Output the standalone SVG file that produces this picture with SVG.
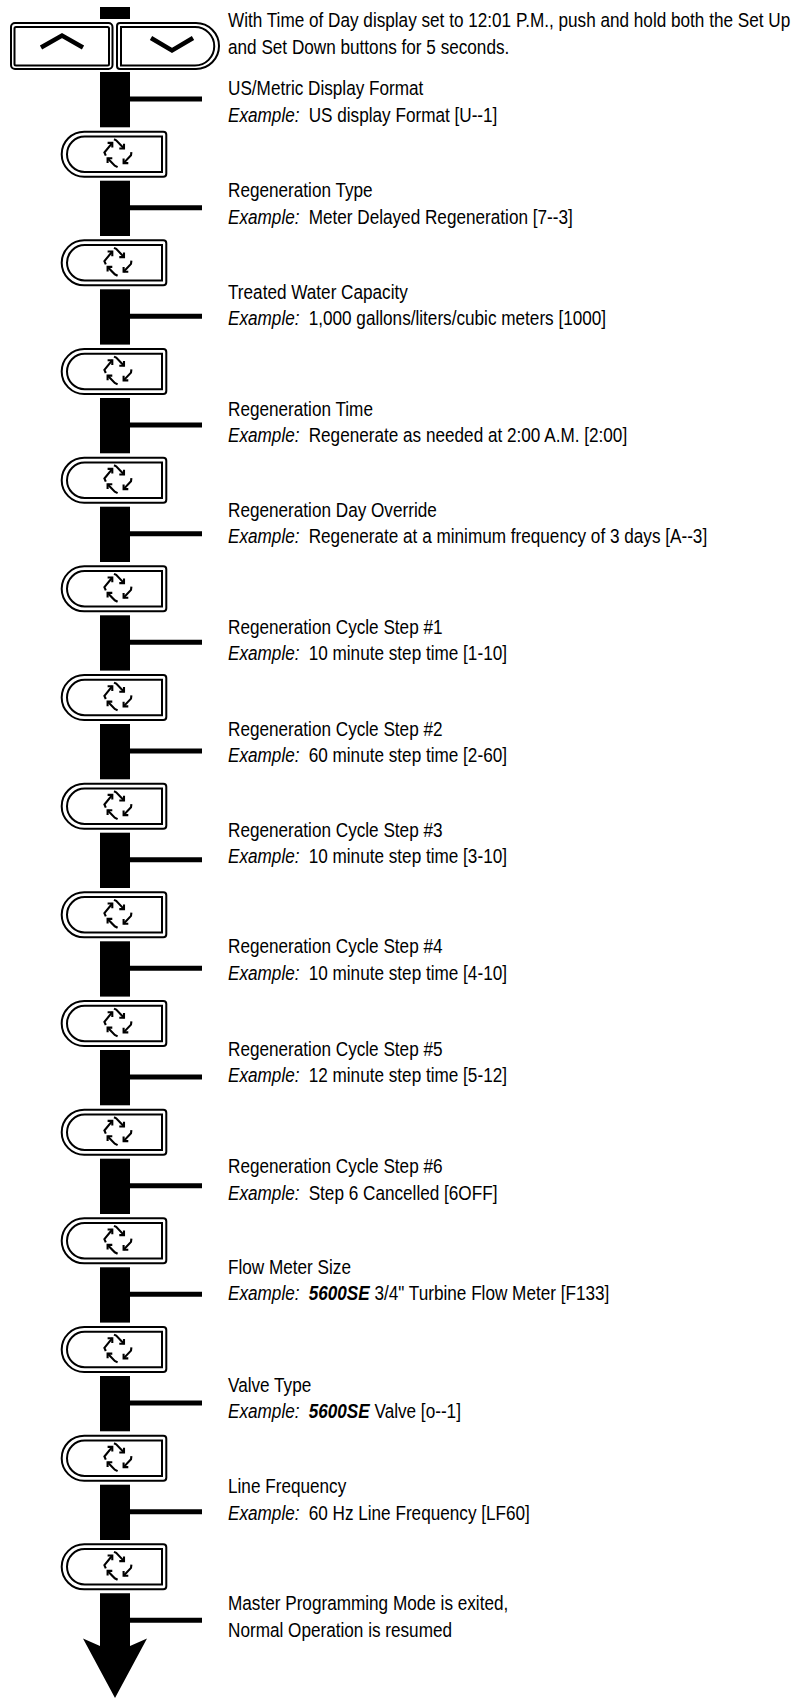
<svg xmlns="http://www.w3.org/2000/svg" xmlns:xlink="http://www.w3.org/1999/xlink" width="810" height="1698" viewBox="0 0 810 1698">
<style>
.t{font-family:"Liberation Sans",Arial,"DejaVu Sans",sans-serif;font-size:19.5px;fill:#000}
.i{font-style:italic}
.bi{font-style:italic;font-weight:bold}
.btn{fill:#fff;stroke:#000;stroke-width:2}
.ico{fill:none;stroke:#000;stroke-width:2.1;stroke-linejoin:miter;stroke-linecap:butt}
.chev{fill:none;stroke:#000;stroke-width:4.5;stroke-linejoin:miter}
.bar{fill:#000}
.ln{stroke:#000;stroke-width:5}
</style>
<defs>
<g id="rb">
<path class="btn" d="M84.2,1 H163.3 Q166.3,1 166.3,4 V43 Q166.3,46 163.3,46 H84.2 A22.5,22.5 0 0 1 84.2,1 Z"/>
<path class="btn" d="M84.7,5.8 H162 V41.2 H84.7 A17.7,17.7 0 0 1 84.7,5.8 Z"/>
<g class="ico">
<path d="M105.8,25 L104.4,21.8 L112.3,12.2"/><path d="M107.6,12.2 H112.3 V16.9"/>
<path d="M114,8.6 L116.2,9.6 L124,17.8"/><path d="M124,13.1 V17.8 H119.3"/>
<path d="M131.4,21.4 L131,24.6 L123.6,32.4"/><path d="M123.6,27.7 V32.4 H128.3"/>
<path d="M117.6,36.4 L114.8,35 L107.6,27.6"/><path d="M112.3,27.6 H107.6 V32.3"/>
</g>
</g>
</defs>

<g id="connectors">
<rect class="bar" x="100" y="7" width="30" height="12"/>
<rect class="bar" x="100" y="72" width="30" height="55.3"/>
<rect class="bar" x="100" y="180.7" width="30" height="55.3"/>
<rect class="bar" x="100" y="289.3" width="30" height="55.3"/>
<rect class="bar" x="100" y="398" width="30" height="55.3"/>
<rect class="bar" x="100" y="506.7" width="30" height="55.3"/>
<rect class="bar" x="100" y="615.3" width="30" height="55.3"/>
<rect class="bar" x="100" y="724" width="30" height="55.3"/>
<rect class="bar" x="100" y="832.7" width="30" height="55.3"/>
<rect class="bar" x="100" y="941.3" width="30" height="55.3"/>
<rect class="bar" x="100" y="1050" width="30" height="55.3"/>
<rect class="bar" x="100" y="1158.7" width="30" height="55.3"/>
<rect class="bar" x="100" y="1267.3" width="30" height="55.3"/>
<rect class="bar" x="100" y="1376" width="30" height="55.3"/>
<rect class="bar" x="100" y="1484.7" width="30" height="55.3"/>
<polygon class="bar" points="100,1593.3 130,1593.3 130,1646 147,1638.5 115,1698 83,1638.5 100,1646"/>
<line class="ln" x1="130" y1="99" x2="202" y2="99"/>
<line class="ln" x1="130" y1="207.7" x2="202" y2="207.7"/>
<line class="ln" x1="130" y1="316.3" x2="202" y2="316.3"/>
<line class="ln" x1="130" y1="425" x2="202" y2="425"/>
<line class="ln" x1="130" y1="533.7" x2="202" y2="533.7"/>
<line class="ln" x1="130" y1="642.3" x2="202" y2="642.3"/>
<line class="ln" x1="130" y1="751" x2="202" y2="751"/>
<line class="ln" x1="130" y1="859.7" x2="202" y2="859.7"/>
<line class="ln" x1="130" y1="968.3" x2="202" y2="968.3"/>
<line class="ln" x1="130" y1="1077" x2="202" y2="1077"/>
<line class="ln" x1="130" y1="1185.7" x2="202" y2="1185.7"/>
<line class="ln" x1="130" y1="1294.3" x2="202" y2="1294.3"/>
<line class="ln" x1="130" y1="1403" x2="202" y2="1403"/>
<line class="ln" x1="130" y1="1511.7" x2="202" y2="1511.7"/>
<line class="ln" x1="130" y1="1620.3" x2="202" y2="1620.3"/>
</g>

<g id="btn-up">
<rect class="btn" x="11" y="23" width="101.5" height="46" rx="4"/>
<rect class="btn" x="14.5" y="27" width="94.5" height="38.5" rx="1.5"/>
<path class="chev" d="M41,47.5 L62,35.5 L83,47.5"/>
</g>
<g id="btn-down">
<path class="btn" d="M120,23 H196 A23,23 0 0 1 196,69 H120 Q117,69 117,66 V26 Q117,23 120,23 Z"/>
<path class="btn" d="M121,27 H195 A19.25,19.25 0 0 1 195,65.5 H121 Z"/>
<path class="chev" d="M151,38 L172,50.5 L193,38"/>
</g>

<g id="btn-1"><use xlink:href="#rb" href="#rb" y="130.7"/></g>
<g id="btn-2"><use xlink:href="#rb" href="#rb" y="239.3"/></g>
<g id="btn-3"><use xlink:href="#rb" href="#rb" y="348"/></g>
<g id="btn-4"><use xlink:href="#rb" href="#rb" y="456.7"/></g>
<g id="btn-5"><use xlink:href="#rb" href="#rb" y="565.3"/></g>
<g id="btn-6"><use xlink:href="#rb" href="#rb" y="674"/></g>
<g id="btn-7"><use xlink:href="#rb" href="#rb" y="782.7"/></g>
<g id="btn-8"><use xlink:href="#rb" href="#rb" y="891.3"/></g>
<g id="btn-9"><use xlink:href="#rb" href="#rb" y="1000"/></g>
<g id="btn-10"><use xlink:href="#rb" href="#rb" y="1108.7"/></g>
<g id="btn-11"><use xlink:href="#rb" href="#rb" y="1217.3"/></g>
<g id="btn-12"><use xlink:href="#rb" href="#rb" y="1326"/></g>
<g id="btn-13"><use xlink:href="#rb" href="#rb" y="1434.7"/></g>
<g id="btn-14"><use xlink:href="#rb" href="#rb" y="1543.3"/></g>

<g class="t" transform="translate(228 0) scale(0.88 1)">
<g id="step-start">
<text x="0" y="27.5">With Time of Day display set to 12:01 P.M., push and hold both the Set Up</text>
<text x="0" y="54">and Set Down buttons for 5 seconds.</text>
</g>
<g id="step-us-metric">
<text x="0" y="95.5">US/Metric Display Format</text>
<text x="0" y="122"><tspan class="i">Example:</tspan><tspan dx="5"> US display Format [U--1]</tspan></text>
</g>
<g id="step-regen-type">
<text x="0" y="197.5">Regeneration Type</text>
<text x="0" y="224"><tspan class="i">Example:</tspan><tspan dx="5"> Meter Delayed Regeneration [7--3]</tspan></text>
</g>
<g id="step-capacity">
<text x="0" y="299">Treated Water Capacity</text>
<text x="0" y="325.5"><tspan class="i">Example:</tspan><tspan dx="5"> 1,000 gallons/liters/cubic meters [1000]</tspan></text>
</g>
<g id="step-regen-time">
<text x="0" y="416">Regeneration Time</text>
<text x="0" y="442"><tspan class="i">Example:</tspan><tspan dx="5"> Regenerate as needed at 2:00 A.M. [2:00]</tspan></text>
</g>
<g id="step-day-override">
<text x="0" y="517">Regeneration Day Override</text>
<text x="0" y="543.5"><tspan class="i">Example:</tspan><tspan dx="5"> Regenerate at a minimum frequency of 3 days [A--3]</tspan></text>
</g>
<g id="step-cycle-1">
<text x="0" y="634">Regeneration Cycle Step #1</text>
<text x="0" y="660.5"><tspan class="i">Example:</tspan><tspan dx="5"> 10 minute step time [1-10]</tspan></text>
</g>
<g id="step-cycle-2">
<text x="0" y="736">Regeneration Cycle Step #2</text>
<text x="0" y="762"><tspan class="i">Example:</tspan><tspan dx="5"> 60 minute step time [2-60]</tspan></text>
</g>
<g id="step-cycle-3">
<text x="0" y="837">Regeneration Cycle Step #3</text>
<text x="0" y="863.5"><tspan class="i">Example:</tspan><tspan dx="5"> 10 minute step time [3-10]</tspan></text>
</g>
<g id="step-cycle-4">
<text x="0" y="953.5">Regeneration Cycle Step #4</text>
<text x="0" y="980"><tspan class="i">Example:</tspan><tspan dx="5"> 10 minute step time [4-10]</tspan></text>
</g>
<g id="step-cycle-5">
<text x="0" y="1056">Regeneration Cycle Step #5</text>
<text x="0" y="1082.5"><tspan class="i">Example:</tspan><tspan dx="5"> 12 minute step time [5-12]</tspan></text>
</g>
<g id="step-cycle-6">
<text x="0" y="1173.5">Regeneration Cycle Step #6</text>
<text x="0" y="1200"><tspan class="i">Example:</tspan><tspan dx="5"> Step 6 Cancelled [6OFF]</tspan></text>
</g>
<g id="step-flow-meter">
<text x="0" y="1274">Flow Meter Size</text>
<text x="0" y="1300.5"><tspan class="i">Example:</tspan><tspan dx="5" class="bi"> 5600SE</tspan> 3/4" Turbine Flow Meter [F133]</text>
</g>
<g id="step-valve-type">
<text x="0" y="1392.5">Valve Type</text>
<text x="0" y="1418.5"><tspan class="i">Example:</tspan><tspan dx="5" class="bi"> 5600SE</tspan> Valve [o--1]</text>
</g>
<g id="step-line-freq">
<text x="0" y="1493.5">Line Frequency</text>
<text x="0" y="1520"><tspan class="i">Example:</tspan><tspan dx="5"> 60 Hz Line Frequency [LF60]</tspan></text>
</g>
<g id="step-exit">
<text x="0" y="1610">Master Programming Mode is exited,</text>
<text x="0" y="1637">Normal Operation is resumed</text>
</g>
</g>
</svg>
